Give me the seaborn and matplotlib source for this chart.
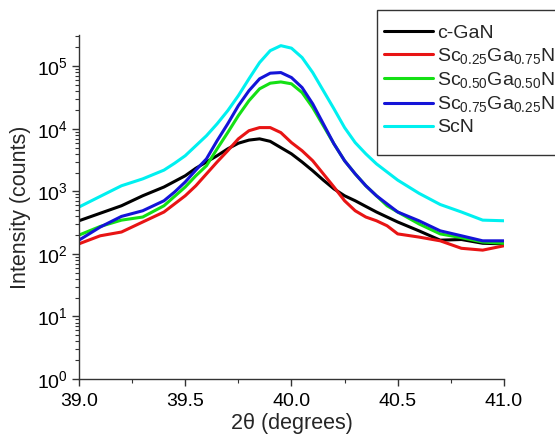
import numpy as np
import pandas as pd
import seaborn as sns
import matplotlib.pyplot as plt
from matplotlib.patches import Rectangle

# 2theta positions
two_theta = [39.0, 39.1, 39.2, 39.3, 39.4, 39.45, 39.5, 39.55, 39.6, 39.65, 39.7, 39.75,
             39.8, 39.85, 39.9, 39.95, 40.0, 40.05, 40.1, 40.15, 40.2, 40.25, 40.3, 40.35,
             40.4, 40.45, 40.5, 40.6, 40.7, 40.8, 40.9, 41.0]

# intensities (counts)
c_gan = [339, 447, 589, 851, 1175, 1445, 1778, 2344, 2951, 3715, 4786, 5888,
         6607, 6918, 6310, 5012, 3981, 2951, 2138, 1514, 1096, 851, 708, 575,
         468, 389, 324, 234, 166, 170, 148, 145]
sc25 = [145, 195, 224, 324, 468, 631, 851, 1230, 1905, 2951, 4467, 6918,
        9333, 10470, 10470, 8710, 6026, 4467, 3090, 1905, 1175, 708, 490, 389,
        339, 282, 209, 186, 162, 123, 115, 135]
sc50 = [200, 275, 347, 389, 589, 832, 1175, 1778, 2570, 4786, 8710, 16220,
        28180, 43650, 53700, 56230, 52480, 38020, 21880, 11220, 5754, 3090, 1905, 1230,
        851, 589, 468, 302, 209, 182, 155, 148]
sc75 = [166, 269, 398, 490, 708, 977, 1413, 2188, 3311, 6457, 12020, 23440,
        40740, 63100, 77620, 79430, 66070, 45710, 25120, 12020, 5754, 3090, 1905, 1230,
        851, 631, 468, 339, 234, 195, 162, 162]
scn = [562, 832, 1230, 1585, 2188, 2818, 3715, 5370, 7762, 12020, 19500, 33880,
       63100, 114800, 177800, 213800, 195000, 138000, 79430, 40740, 20900, 10470, 6026, 3981,
       2754, 2042, 1514, 933, 617, 468, 347, 339]

labels = ['c-GaN',
          r'Sc$_{0.25}$Ga$_{0.75}$N',
          r'Sc$_{0.50}$Ga$_{0.50}$N',
          r'Sc$_{0.75}$Ga$_{0.25}$N',
          'ScN']
colors = ['black', '#e81414', '#14e014', '#1414d8', '#00f0f0']

sns.set_style('ticks')
plt.rcParams['font.family'] = ['Liberation Sans', 'DejaVu Sans']
plt.rcParams['mathtext.fontset'] = 'custom'
plt.rcParams['mathtext.rm'] = 'Liberation Sans'
plt.rcParams['mathtext.it'] = 'Liberation Sans:italic'

df = pd.concat([
    pd.DataFrame({'two_theta': two_theta, 'counts': vals, 'sample': lab})
    for lab, vals in zip(labels, [c_gan, sc25, sc50, sc75, scn])
])

fig = plt.figure(figsize=(5.55, 4.34), dpi=100)
ax = fig.add_axes([0.1423, 0.1267, 0.7657, 0.7926])

sns.lineplot(data=df, x='two_theta', y='counts', hue='sample', hue_order=labels,
             palette=colors, linewidth=2.2, ax=ax, legend=False)

ax.set_yscale('log')
ax.set_xlim(39.0, 41.0)
ax.set_ylim(1, 10**5.5)
ax.set_xticks([39.0, 39.5, 40.0, 40.5, 41.0])
ax.set_xticklabels(['39.0', '39.5', '40.0', '40.5', '41.0'])
ax.set_xticks([39.25, 39.75, 40.25, 40.75], minor=True)

for s in ['top', 'right']:
    ax.spines[s].set_visible(False)
for s in ['left', 'bottom']:
    ax.spines[s].set_color('#333333')
    ax.spines[s].set_linewidth(1.0)

ax.tick_params(axis='both', which='major', direction='out', length=5, width=1,
               labelsize=14, colors='#333333', labelcolor='black', pad=3)
ax.tick_params(axis='x', which='major', pad=5)
ax.tick_params(axis='both', which='minor', direction='out', length=3, width=0.8,
               colors='#333333')

ax.set_xlabel('2θ (degrees)', fontsize=15.5, labelpad=2)
ax.set_ylabel('Intensity (counts)', fontsize=15.5, labelpad=4)

# legend box drawn separately so the padding matches the original
fig.patches.append(Rectangle((377 / 555, 1 - 155 / 434), 0.4, 145 / 434,
                             transform=fig.transFigure, facecolor='white',
                             edgecolor='#333333', linewidth=1.0, zorder=5))

handles = [plt.Line2D([], [], color=c, lw=2.2) for c in colors]
leg = fig.legend(handles, labels, loc='upper left', bbox_to_anchor=(384 / 555, 1 - 24 / 434),
                 bbox_transform=fig.transFigure, fontsize=14, frameon=False,
                 handlelength=2.5, handletextpad=0.25, labelspacing=0.22,
                 borderpad=0, borderaxespad=0)
leg.set_zorder(6)

fig.savefig('out.png', dpi=100)
